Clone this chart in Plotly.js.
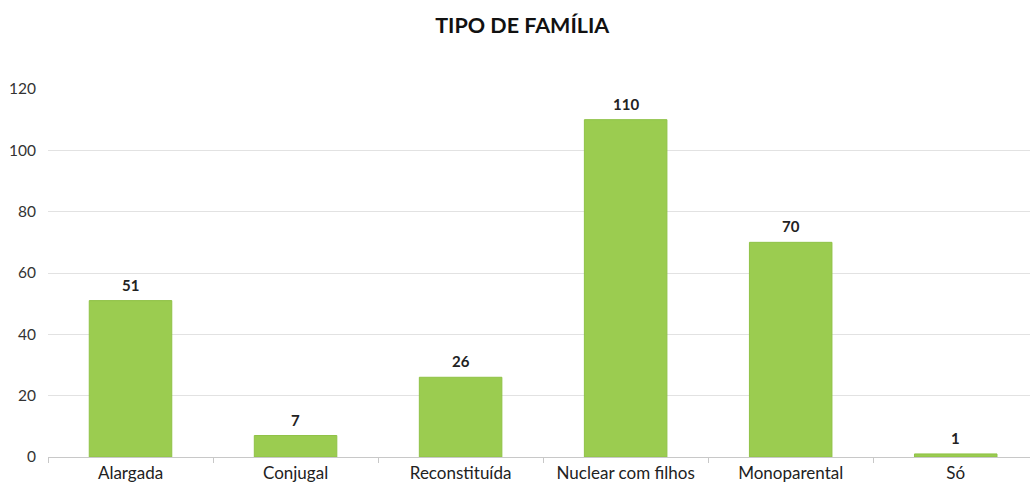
<!DOCTYPE html>
<html><head><meta charset="utf-8">
<script src="https://cdn.plot.ly/plotly-3.0.1.min.js"></script>
<style>body{margin:0;background:#fff}#c{width:1030px;height:487px}</style>
</head><body><div id="c"></div>
<script>
const categories = ["Alargada","Conjugal","Reconstituída","Nuclear com filhos","Monoparental","Só"];
const values = [51, 7, 26, 110, 70, 1];
const yTicks = [0,20,40,60,80,100,120];

const font = "Lato, 'Open Sans', sans-serif";
Plotly.newPlot("c", [{
  type: "bar",
  x: categories,
  y: values,
  marker: {color: "#9bcc50", line: {color: "#8fc246", width: 1}},
  hoverinfo: "none"
}], {
  width: 1030, height: 487,
  margin: {l: 48, r: 0, t: 89, b: 30},
  paper_bgcolor: "#fff", plot_bgcolor: "#fff",
  bargap: 0.5,
  showlegend: false,
  title: {text: "<b>TIPO DE FAMÍLIA</b>", x: 0.507, xanchor: "center", y: 0.948, yanchor: "middle",
          font: {family: font, size: 21.5, color: "#111"}},
  annotations: categories.map((c, i) => ({
    x: c, y: values[i], xref: "x", yref: "y", text: "<b>" + values[i] + "</b>",
    showarrow: false, yanchor: "bottom", yshift: 5,
    font: {family: font, size: 15, color: "#222"}
  })),
  xaxis: {
    range: [-0.5, 5.45], type: "category",
    showline: true, linecolor: "#c8c8c8", linewidth: 1,
    ticks: "outside", tickson: "boundaries", ticklen: 5, tickcolor: "#c8c8c8",
    tickfont: {family: font, size: 17, color: "#222"},
    ticklabelstandoff: 1,
    showgrid: false, zeroline: false, fixedrange: true
  },
  yaxis: {
    range: [0, 120], tickvals: yTicks, ticktext: yTicks.map(String),
    showgrid: true, gridcolor: "#e2e2e2", gridwidth: 1,
    zeroline: false, showline: false, ticks: "",
    tickfont: {family: font, size: 15.5, color: "#333"},
    ticklabelstandoff: 11, fixedrange: true
  }
}, {staticPlot: true});
</script></body></html>
